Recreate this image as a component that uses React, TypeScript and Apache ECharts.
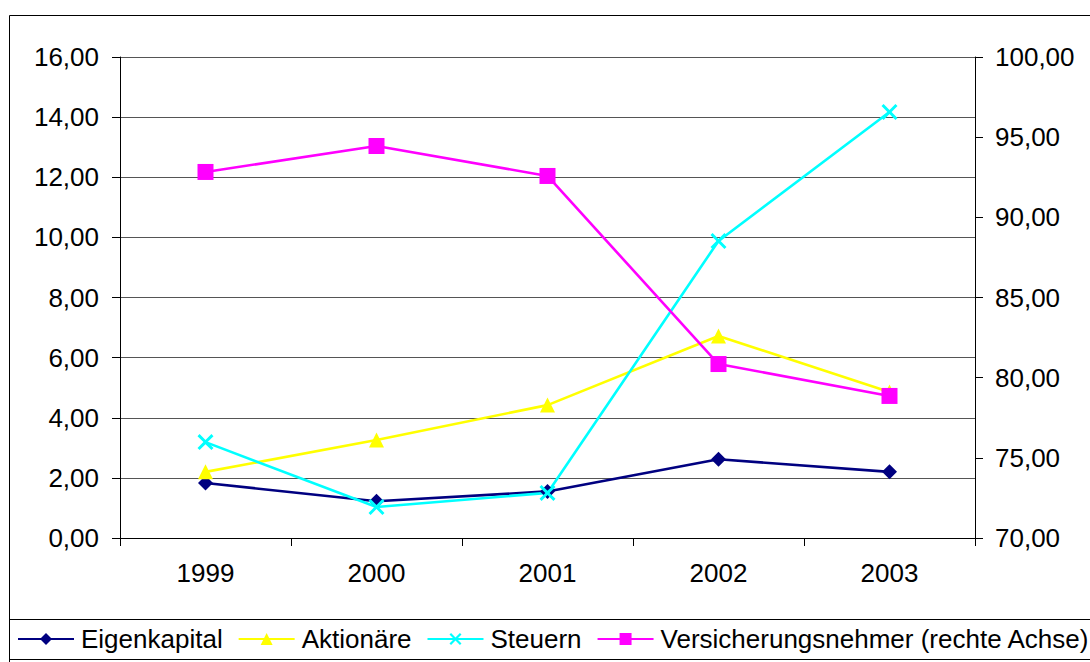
import React, { useEffect, useRef } from "react";
import * as echarts from "echarts";

const years = ["1999", "2000", "2001", "2002", "2003"];
const eigenkapital = [1.83, 1.22, 1.55, 2.62, 2.2];
const aktionaere = [2.2, 3.26, 4.42, 6.72, 4.86];
const steuern = [3.19, 1.03, 1.5, 9.88, 14.17];
const versicherungsnehmer = [92.83, 94.45, 92.58, 80.85, 78.86];

const FONT = "'Liberation Sans', Arial, sans-serif";
const fmt = (v: number) => v.toFixed(2).replace(".", ",");
const X_SYMBOL =
  "path://M0,1.3 L1.3,0 L5,3.7 L8.7,0 L10,1.3 L6.3,5 L10,8.7 L8.7,10 L5,6.3 L1.3,10 L0,8.7 L3.7,5 Z";

export default function App() {
  const ref = useRef<HTMLDivElement>(null);
  useEffect(() => {
    if (!ref.current) return;
    const chart = echarts.init(ref.current, undefined, { renderer: "svg" });
    const lineSeries = (name: string, data: number[], color: string, symbol: string, size: number, yIdx = 0) => ({
      name,
      type: "line",
      data,
      yAxisIndex: yIdx,
      symbol,
      symbolSize: size,
      showAllSymbol: true,
      lineStyle: { color, width: 2.6 },
      itemStyle: { color, borderWidth: 0 },
      emphasis: { disabled: true },
    });
    chart.setOption({
      animation: false,
      backgroundColor: "#fff",
      textStyle: { fontFamily: FONT },
      grid: { left: 120, right: 115, top: 57, bottom: 124, containLabel: false },
      legend: {
        left: 17,
        top: 626,
        width: 1200,
        padding: 0,
        itemWidth: 56,
        itemHeight: 15,
        itemGap: 15,
        textStyle: { fontSize: 26, color: "#000", fontFamily: FONT, padding: [0, 0, 0, 2] },
        data: ["Eigenkapital", "Aktionäre", "Steuern", "Versicherungsnehmer (rechte Achse)"],
      },
      xAxis: {
        type: "category",
        data: years,
        boundaryGap: true,
        axisLine: { lineStyle: { color: "#000", width: 1 } },
        axisTick: { show: true, length: 8, lineStyle: { color: "#000" } },
        axisLabel: { fontSize: 26, color: "#000", fontFamily: FONT, margin: 22 },
        splitLine: { show: false },
      },
      yAxis: [
        {
          type: "value",
          min: 0,
          max: 16,
          interval: 2,
          axisLine: { show: true, lineStyle: { color: "#000", width: 1 } },
          axisTick: { show: true, length: 8, lineStyle: { color: "#000" } },
          axisLabel: { fontSize: 26, color: "#000", fontFamily: FONT, margin: 21, formatter: fmt },
          splitLine: { show: true, lineStyle: { color: "#555", width: 1 } },
        },
        {
          type: "value",
          position: "right",
          min: 70,
          max: 100,
          interval: 5,
          axisLine: { show: true, lineStyle: { color: "#000", width: 1 } },
          axisTick: { show: true, length: 8, lineStyle: { color: "#000" } },
          axisLabel: { fontSize: 26, color: "#000", fontFamily: FONT, margin: 20, formatter: fmt },
          splitLine: { show: false },
        },
      ],
      series: [
        lineSeries("Eigenkapital", eigenkapital, "#000080", "diamond", 15),
        lineSeries("Aktionäre", aktionaere, "#FFFF00", "triangle", 15),
        lineSeries("Steuern", steuern, "#00FFFF", X_SYMBOL, 16),
        lineSeries("Versicherungsnehmer (rechte Achse)", versicherungsnehmer, "#FF00FF", "rect", 16, 1),
      ],
      graphic: [
        {
          type: "rect",
          silent: true,
          shape: { x: 9.5, y: 15.5, width: 1200, height: 800 },
          style: { fill: "none", stroke: "#000", lineWidth: 1 },
        },
        {
          type: "rect",
          silent: true,
          shape: { x: 9.5, y: 619.5, width: 1200, height: 40 },
          style: { fill: "none", stroke: "#000", lineWidth: 1 },
        },
      ],
    });
    return () => chart.dispose();
  }, []);
  return (
    <div
      ref={ref}
      style={{ position: "fixed", left: 0, top: 0, width: 1090, height: 662 }}
    />
  );
}
